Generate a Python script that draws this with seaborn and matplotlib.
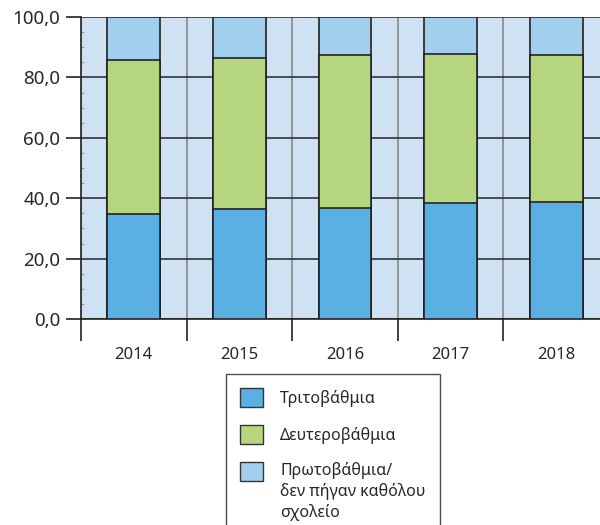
import numpy as np
import pandas as pd
import matplotlib
matplotlib.use("Agg")
import matplotlib.pyplot as plt
import seaborn as sns
from matplotlib.patches import Patch, Rectangle
from matplotlib.legend_handler import HandlerPatch
from matplotlib.ticker import MultipleLocator, FixedLocator

years = ["2014", "2015", "2016", "2017", "2018"]
tertiary = [34.9, 36.3, 36.8, 38.3, 38.8]
secondary = [50.8, 50.1, 50.6, 49.6, 48.6]
primary = [14.3, 13.6, 12.6, 12.1, 12.6]

labels = ["Τριτοβάθμια", "Δευτεροβάθμια", "Πρωτοβάθμια/\nδεν πήγαν καθόλου\nσχολείο"]
colors = ["#5aafe3", "#b5d67f", "#a3cfee"]


class TopAlignedPatch(HandlerPatch):
    # legend square moved up so it sits next to the first line of a long label
    def __init__(self, dy, **kw):
        super().__init__(**kw)
        self.dy = dy

    def create_artists(self, legend, orig_handle, xdescent, ydescent,
                       width, height, fontsize, trans):
        p = Rectangle((-xdescent, -ydescent + self.dy), width, height)
        self.update_prop(p, orig_handle, legend)
        p.set_transform(trans)
        return [p]


sns.set_style("white")
plt.rcParams["font.family"] = ["Noto Sans", "DejaVu Sans"]

df = pd.DataFrame({"year": years, "t": tertiary, "s": secondary, "p": primary})
df["top_s"] = df["t"] + df["s"]
df["top_p"] = df["top_s"] + df["p"]

fig = plt.figure(figsize=(6, 5.25), dpi=100)
ax = fig.add_axes([81 / 600, 1 - 319 / 525, 528 / 600, 302 / 525])
ax.set_facecolor("#cfe2f3")

# cumulative bars drawn from tallest to shortest so they stack
for col, c in [("top_p", colors[2]), ("top_s", colors[1]), ("t", colors[0])]:
    sns.barplot(data=df, x="year", y=col, color=c, width=0.5, saturation=1,
                edgecolor="#222222", linewidth=1.2, ax=ax, zorder=3)

ax.set_xlim(-0.5, 4.5)
ax.set_ylim(0, 100)
ax.set_xlabel("")
ax.set_ylabel("")

ax.yaxis.set_major_locator(MultipleLocator(20))
ax.set_yticklabels([f"{v:.1f}".replace(".", ",") for v in ax.get_yticks()])
ax.yaxis.set_minor_locator(MultipleLocator(5))
ax.tick_params(axis="y", which="major", left=True, length=11, width=1.2,
               color="#222222", labelsize=13.5, pad=4, direction="out")
ax.tick_params(axis="y", which="minor", left=True, length=2.5, width=0.6,
               color="#888888", direction="in")

# x: ticks at category boundaries, labels at centres
ax.xaxis.set_major_locator(FixedLocator(np.arange(-0.5, 5.0, 1.0)))
ax.xaxis.set_minor_locator(FixedLocator(np.arange(5)))
ax.set_xticklabels([])
ax.set_xticklabels(years, minor=True)
ax.tick_params(axis="x", which="major", bottom=True, length=16, width=1.2,
               color="#222222", direction="out")
ax.tick_params(axis="x", which="minor", bottom=True, length=0, labelsize=12,
               pad=20)

ax.grid(True, axis="y", color="#333333", linewidth=1.2, zorder=1)
ax.grid(True, axis="x", which="major", color="#888888", linewidth=1.2, zorder=1)
ax.set_axisbelow(True)

for side in ["top", "right"]:
    ax.spines[side].set_visible(False)
ax.spines["left"].set_color("#222222")
ax.spines["left"].set_linewidth(1.2)
ax.spines["bottom"].set_color("#222222")
ax.spines["bottom"].set_linewidth(1.2)

handles = [Patch(facecolor=c, edgecolor="#333333", linewidth=1.0) for c in colors]
leg = fig.legend(handles, labels, loc="upper left",
                 bbox_to_anchor=(226 / 600, 1 - 374 / 525),
                 frameon=True, fancybox=False, fontsize=11.5,
                 handlelength=1.4, handleheight=1.4, handletextpad=1.1,
                 labelspacing=1.15, borderpad=0.9, borderaxespad=0,
                 handler_map={handles[2]: TopAlignedPatch(15)})
for t in leg.get_texts():
    t.set_linespacing(1.3)
leg.get_frame().set_edgecolor("#222222")
leg.get_frame().set_linewidth(1.0)

fig.savefig("out.png", dpi=100)
